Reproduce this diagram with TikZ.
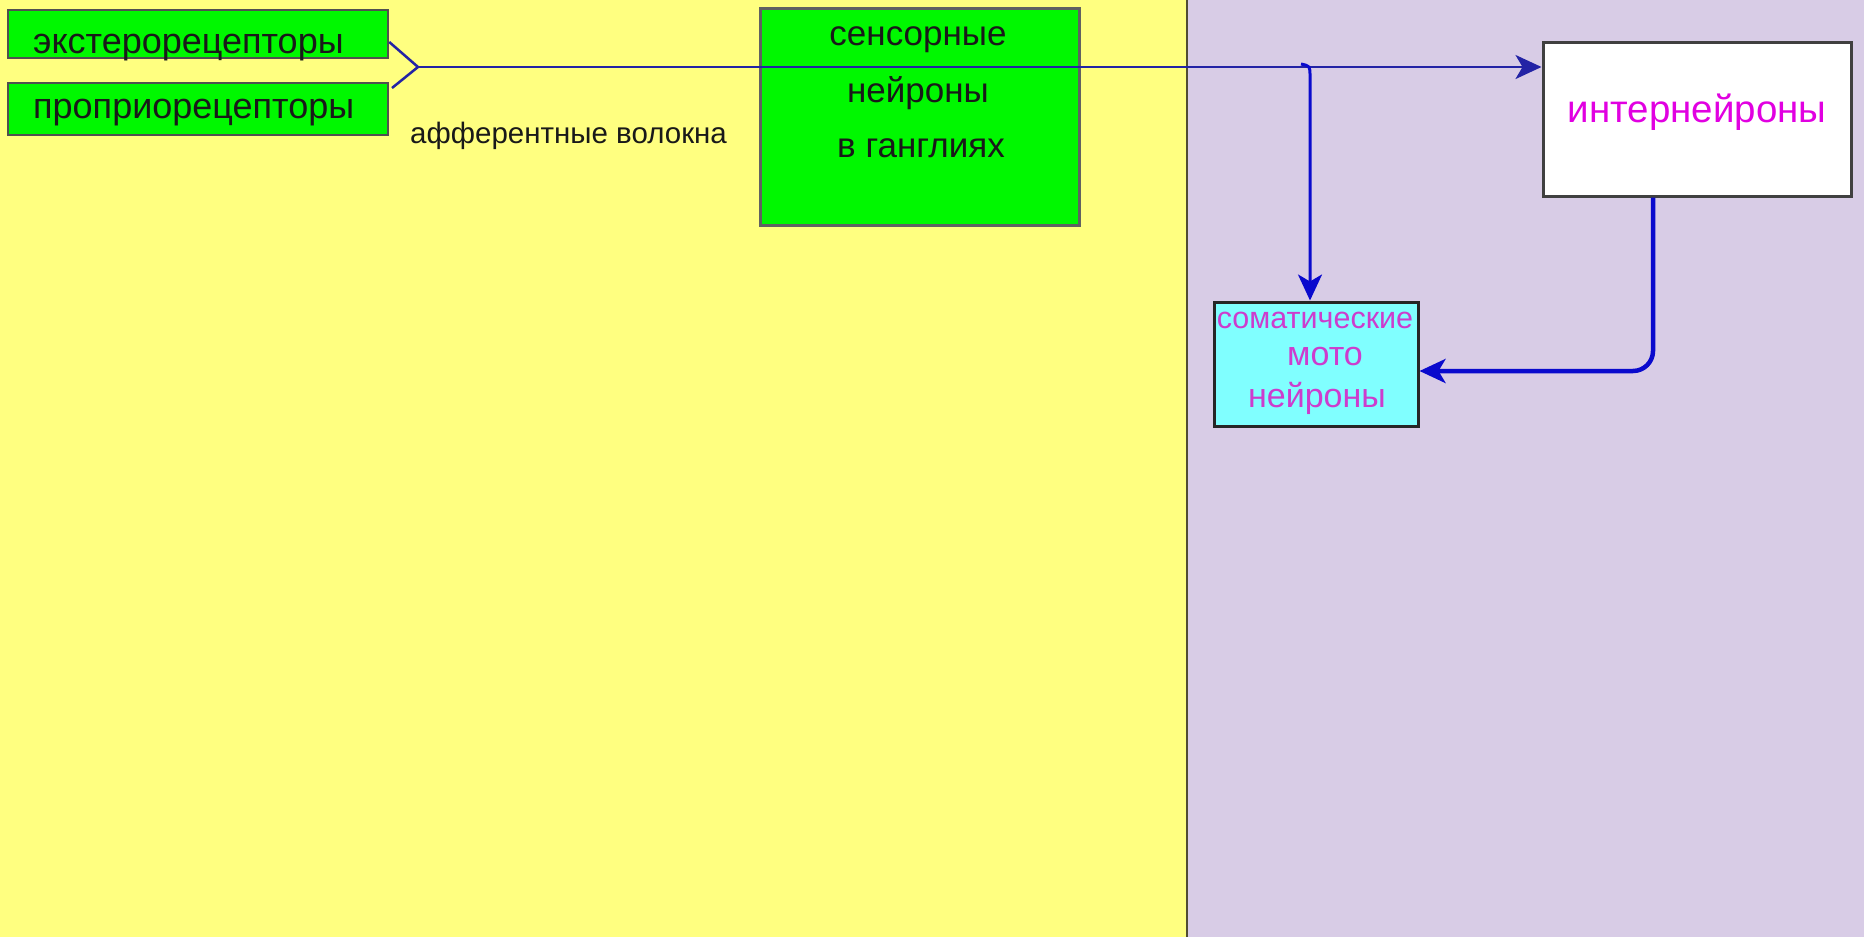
\documentclass[tikz,border=0pt]{standalone}
\usepackage{fontspec}
\setmainfont{Liberation Sans}
\usetikzlibrary{arrows.meta}
\definecolor{bgyellow}{RGB}{255,255,128}
\definecolor{bgpurple}{RGB}{216,204,230}
\definecolor{boxgreen}{RGB}{0,248,0}
\definecolor{boxcyan}{RGB}{128,255,255}
\definecolor{bordergrey}{RGB}{80,80,80}
\definecolor{navy}{RGB}{35,35,165}
\definecolor{linkblue}{RGB}{10,10,205}
\definecolor{txtmag}{RGB}{225,0,225}
\definecolor{txtmag2}{RGB}{205,60,205}
\definecolor{divcol}{RGB}{80,76,50}
\tikzset{
  gbox/.style={draw=bordergrey, line width=2.5pt, fill=boxgreen, inner sep=0pt},
  wbox/.style={draw=bordergrey!80!black, line width=3pt, fill=white, inner sep=0pt},
  cbox/.style={draw=black!85, line width=3pt, fill=boxcyan, inner sep=0pt},
  blacktxt/.style={inner sep=0pt, text=black!90},
  magtxt/.style={inner sep=0pt, text=txtmag},
  magtxtb/.style={inner sep=0pt, text=txtmag2},
  fiber/.style={draw=navy, line width=2.5pt},
  link/.style={draw=linkblue, line width=3pt},
  thicklink/.style={draw=linkblue, line width=4.5pt},
  tip/.style={-{Stealth[length=26pt,width=24pt,inset=7pt]}}
}
\begin{document}
\begin{tikzpicture}[x=1pt,y=-1pt]
\useasboundingbox (0,0) rectangle (1864,937);
% backgrounds
\fill[bgyellow] (0,0) rectangle (1187,937);
\fill[bgpurple] (1187,0) rectangle (1864,937);
\draw[divcol, line width=2.5pt] (1187,0) -- (1187,937);

% receptor boxes
\node[gbox, minimum width=380pt, minimum height=48pt] (ext) at (198,34) {};
\node[gbox, minimum width=380pt, minimum height=52pt] (prop) at (198,109) {};
\node[blacktxt, anchor=base west, font=\fontsize{36}{40}\selectfont] (extt) at (33,53) {экстерорецепторы};
\node[blacktxt, anchor=base west, font=\fontsize{36}{40}\selectfont] (propt) at (33,118) {проприорецепторы};

% afferent label
\node[blacktxt, anchor=base west, font=\fontsize{29.5}{33}\selectfont] (aff) at (410,143) {афферентные волокна};

% sensory box
\node[gbox, draw=bordergrey!90, line width=3pt, minimum width=319pt, minimum height=217pt] (sens) at (919.5,116.5) {};
\node[blacktxt, anchor=base, font=\fontsize{35}{40}\selectfont] (s1) at (918,45) {сенсорные};
\node[blacktxt, anchor=base, font=\fontsize{35}{40}\selectfont] (s2) at (918,102) {нейроны};
\node[blacktxt, anchor=base, font=\fontsize{35}{40}\selectfont] (s3) at (921,157) {в ганглиях};

% interneurons box
\node[wbox, minimum width=308pt, minimum height=154pt] (inter) at (1697,119) {};
\node[magtxt, anchor=base, font=\fontsize{38.5}{42}\selectfont] (intert) at (1697,122) {интернейроны};

% motoneurons box
\node[cbox, minimum width=204pt, minimum height=124pt] (moto) at (1316,364) {};
\node[magtxtb, anchor=base, font=\fontsize{30.5}{34}\selectfont] (m1) at (1315,328) {соматические};
\node[magtxtb, anchor=base, font=\fontsize{34}{38}\selectfont] (m2) at (1325,365) {мото};
\node[magtxtb, anchor=base, font=\fontsize{34}{38}\selectfont] (m3) at (1317,407) {нейроны};

% fork of afferent fibres
\coordinate (fork) at (418,67);
\coordinate (f1) at (ext.east |- 0,42);
\coordinate (f2) at (392,88);
\draw[fiber] (f1) -- (fork) -- (f2);
% main afferent line to interneurons
\draw[fiber, tip] (fork) -- (fork -| inter.west);
% branch to motoneurons
\coordinate (br) at (1310,67);
\draw[link, tip] (1301,64) .. controls (1310,66) .. (1310,76) -- (br |- moto.north);
% interneurons to motoneurons
\coordinate (dn) at (1653,371);
\draw[thicklink, tip, rounded corners=20pt] (inter.south -| dn) -- (dn) -- (moto.east |- dn);
\end{tikzpicture}
\end{document}
